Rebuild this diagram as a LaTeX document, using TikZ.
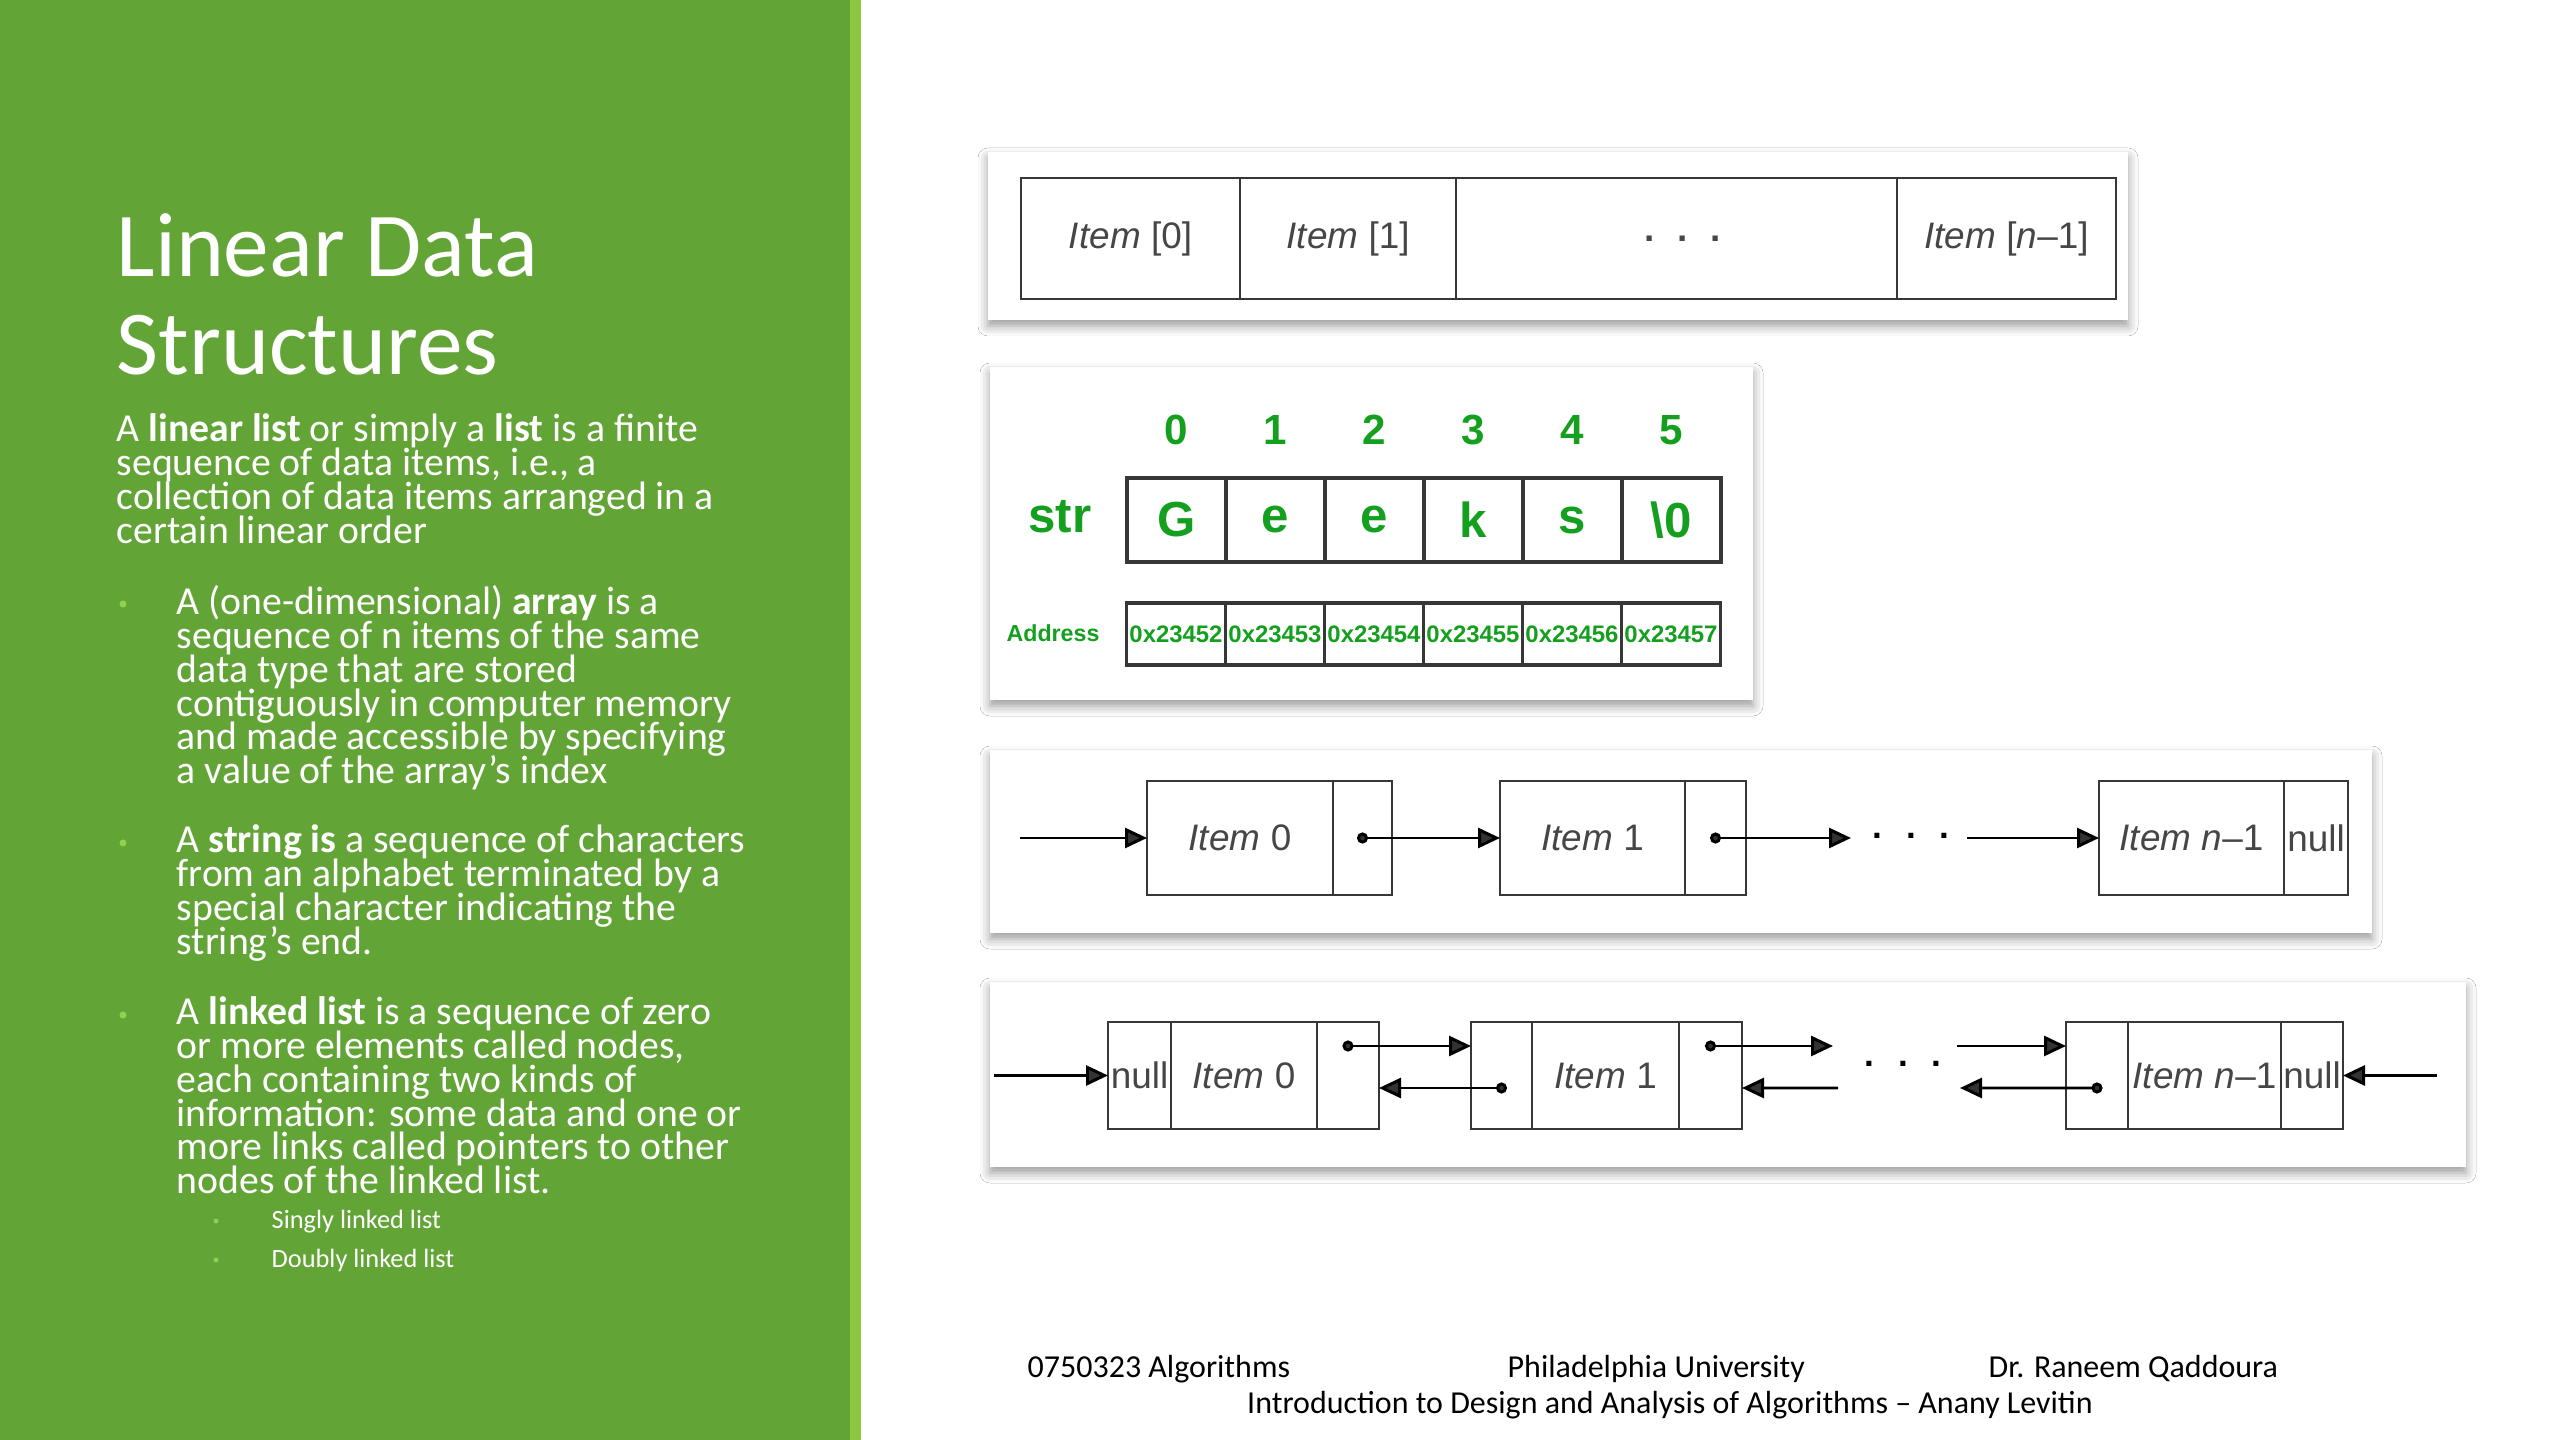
\documentclass[tikz,border=0pt]{standalone}
\usepackage{fontspec}
\setmainfont{Carlito}
\newfontfamily\figfont{Liberation Sans}
\usetikzlibrary{positioning,arrows.meta,calc,shadows.blur}

\definecolor{slidegreen}{RGB}{99,164,55}
\definecolor{stripegreen}{RGB}{141,198,63}
\definecolor{bulletgreen}{RGB}{146,208,80}
\definecolor{geekgreen}{RGB}{20,160,30}
\definecolor{itemgray}{RGB}{70,70,70}
\definecolor{boxline}{RGB}{55,55,55}

\tikzset{
  panel/.style={fill=white, blur shadow={shadow xshift=0pt, shadow yshift=-0.6mm, shadow blur radius=1mm, shadow opacity=40}},
  body/.style={anchor=base west, inner sep=0pt, text=white, font=\fontsize{11.3}{13}\selectfont},
  subbody/.style={anchor=base west, inner sep=0pt, text=white, font=\fontsize{7.5}{9}\selectfont},
  foot/.style={anchor=base west, inner sep=0pt, text=black, font=\fontsize{9.1}{11}\selectfont},
  cell/.style={draw=boxline, line width=0.6pt, inner sep=0pt, outer sep=0pt, text=itemgray, font=\figfont\fontsize{10.5}{12}\selectfont},
  geekcell/.style={draw=boxline, line width=1pt, inner sep=0pt, outer sep=0pt, minimum width=9.9mm, text=geekgreen},
  geektext/.style={inner sep=0pt, text=geekgreen},
  link/.style={line width=0.85pt, -{Triangle[length=2.2mm,width=2mm]}},
  ptr/.style={line width=0.85pt, shorten <=-0.55mm, {Circle[length=1.1mm]}-{Triangle[length=2.2mm,width=2mm]}}
}

\begin{document}
\begin{tikzpicture}[x=0.1mm,y=-0.1mm]
\useasboundingbox (0,0) rectangle (2560,1440);
\fill[white] (0,0) rectangle (2560,1440);
\fill[slidegreen] (0,0) rectangle (850,1440);
\fill[stripegreen] (850,0) rectangle (861,1440);

% left column
\node[anchor=base west, inner sep=0pt, text=white, font=\fontsize{26}{30}\selectfont] (title1) at (116,277) {Linear Data};
\node[anchor=base west, inner sep=0pt, text=white, font=\fontsize{26}{30}\selectfont] (title2) at (116,375) {Structures};

\foreach \t [count=\i from 0] in {{A \textbf{linear list} or simply a \textbf{list} is a finite},
  {sequence of data items, i.e., a},{collection of data items arranged in a},{certain linear order}}
  \node[body] (intro\i) at (116,{442+33.7*\i}) {\t};

\foreach \t [count=\i from 0] in {{A (one-dimensional) \textbf{array} is a},{sequence of n items of the same},
  {data type that are stored},{contiguously in computer memory},{and made accessible by specifying},
  {a value of the array’s index}}
  \node[body] (arr\i) at (176,{615+33.7*\i}) {\t};

\foreach \t [count=\i from 0] in {{A \textbf{string is} a sequence of characters},{from an alphabet terminated by a},
  {special character indicating the},{string’s end.}}
  \node[body] (str\i) at (176,{853+33.7*\i}) {\t};

\foreach \t [count=\i from 0] in {{A \textbf{linked list} is a sequence of zero},{or more elements called nodes,},
  {each containing two kinds of},{information: some data and one or},{more links called pointers to other},
  {nodes of the linked list.}}
  \node[body] (lnk\i) at (176,{1025+33.7*\i}) {\t};

\node[subbody] (sub1) at (271,1228) {Singly linked list};
\node[subbody] (sub2) at (271,1267) {Doubly linked list};

\foreach \y in {604,843,1015} \fill[bulletgreen] (123,\y) circle (3.5);
\foreach \y in {1221,1260} \fill[bulletgreen] (216,\y) circle (2.5);

% array
\path[panel] (988,152) rectangle (2128,320);
\node[cell, minimum width=21.9mm, minimum height=12.1mm] (a0) at (1130.5,238.5) {\textit{Item} [0]};
\node[cell, minimum width=21.6mm, minimum height=12.1mm, right=0pt of a0] (a1) {\textit{Item} [1]};
\node[cell, minimum width=44.1mm, minimum height=12.1mm, right=0pt of a1] (a2) {\hspace{1.2mm}\bfseries .\hspace{2.3mm}.\hspace{2.3mm}.};
\node[cell, minimum width=21.9mm, minimum height=12.1mm, right=0pt of a2] (a3) {\textit{Item} [\textit{n}–1]};

% string
\path[panel] (990,367) rectangle (1753,700);
\node[geektext, font=\figfont\bfseries\fontsize{14}{16}\selectfont] (strlabel) at (1060,517) {str};
\node[geektext, font=\figfont\bfseries\fontsize{6.6}{8}\selectfont] (addrlabel) at (1053,633) {Address};
\foreach \ch [count=\i from 0] in {G,e,e,k,s,{\textbackslash 0}} {
  \node[geektext, font=\figfont\bfseries\fontsize{12}{14}\selectfont] (idx\i) at ({1176.5+99*\i},430) {\i};
  \node[geekcell, minimum height=8.4mm, font=\figfont\bfseries\fontsize{14}{16}\selectfont] (ch\i) at ({1176.5+99*\i},520) {\ch};
}
\foreach \i [evaluate=\i as \n using int(\i+2)] in {0,...,5}
  \node[geekcell, minimum height=6.2mm, font=\figfont\bfseries\fontsize{6.8}{8}\selectfont] (addr\i) at ({1176+99*\i},634) {0x2345\n};

% singly linked list
\path[panel] (990,750) rectangle (2372,933);
\node[cell, minimum width=18.6mm, minimum height=11.4mm] (d0) at (1240,838) {\textit{Item} 0};
\node[cell, minimum width=5.9mm, minimum height=11.4mm, right=0pt of d0] (p0) {};
\node[cell, minimum width=18.5mm, minimum height=11.4mm] (d1) at (1592.5,838) {\textit{Item} 1};
\node[cell, minimum width=6.1mm, minimum height=11.4mm, right=0pt of d1] (p1) {};
\node[cell, minimum width=18.5mm, minimum height=11.4mm] (dn) at (2191.5,838) {\textit{Item n}–1};
\node[cell, minimum width=6.4mm, minimum height=11.4mm, right=0pt of dn] (pn) {null};
\coordinate (shead) at (1020,838);
\coordinate (sgap1) at (1851,838);
\coordinate (sgap2) at (1967,838);
\node[text=black, font=\figfont\bfseries] (sdots) at (1911,836) {.\hspace{2.4mm}.\hspace{2.4mm}.};
\draw[link] (shead) -- (d0);
\draw[ptr] (p0.center) -- (d1);
\draw[ptr] (p1.center) -- (sgap1);
\draw[link] (sgap2) -- (dn);

% doubly linked list
\path[panel] (990,982) rectangle (2466,1167);
\node[cell, minimum width=6.3mm, minimum height=10.7mm] (l0) at (1139.5,1075.5) {null};
\node[cell, minimum width=14.6mm, minimum height=10.7mm, right=0pt of l0] (m0) {\textit{Item} 0};
\node[cell, minimum width=6.2mm, minimum height=10.7mm, right=0pt of m0] (r0) {};
\node[cell, minimum width=6.1mm, minimum height=10.7mm] (l1) at (1501.5,1075.5) {};
\node[cell, minimum width=14.7mm, minimum height=10.7mm, right=0pt of l1] (m1) {\textit{Item} 1};
\node[cell, minimum width=6.3mm, minimum height=10.7mm, right=0pt of m1] (r1) {};
\node[cell, minimum width=6.2mm, minimum height=10.7mm] (ln) at (2097,1075.5) {};
\node[cell, minimum width=15.3mm, minimum height=10.7mm, right=0pt of ln] (mn) {\textit{Item n}–1};
\node[cell, minimum width=6.2mm, minimum height=10.7mm, right=0pt of mn] (rn) {null};
\coordinate (dhead) at (994,1075.5);
\coordinate (dtail) at (2437,1075.5);
\coordinate (fgap1) at (1833,1046);
\coordinate (bgap1) at (1838,1088);
\coordinate (fgap2) at (1957,1046);
\coordinate (bgap2) at (1960,1088);
\node[text=black, font=\figfont\bfseries] (ddots) at (1903,1064) {.\hspace{2.4mm}.\hspace{2.4mm}.};
\draw[link] (dhead) -- (l0);
\draw[ptr] ($(r0.center)+(0,-29.5)$) -- ($(l1.west)+(0,-29.5)$);
\draw[ptr] ($(l1.center)+(0,12.5)$) -- ($(r0.east)+(0,12.5)$);
\draw[ptr] ($(r1.center)+(0,-29.5)$) -- (fgap1);
\draw[link] (bgap1) -- ($(r1.east)+(0,12.5)$);
\draw[link] (fgap2) -- ($(ln.west)+(0,-29.5)$);
\draw[ptr] ($(ln.center)+(0,12.5)$) -- (bgap2);
\draw[link] (dtail) -- (rn);

% footer
\node[foot] (course) at (1027,1377) {0750323 Algorithms};
\node[foot] (uni) at (1507,1377) {Philadelphia University};
\node[foot] (lecturer) at (1988,1377) {Dr. Raneem Qaddoura};
\node[foot, anchor=base] (book) at (1670,1413) {Introduction to Design and Analysis of Algorithms – Anany Levitin};
\end{tikzpicture}
\end{document}
